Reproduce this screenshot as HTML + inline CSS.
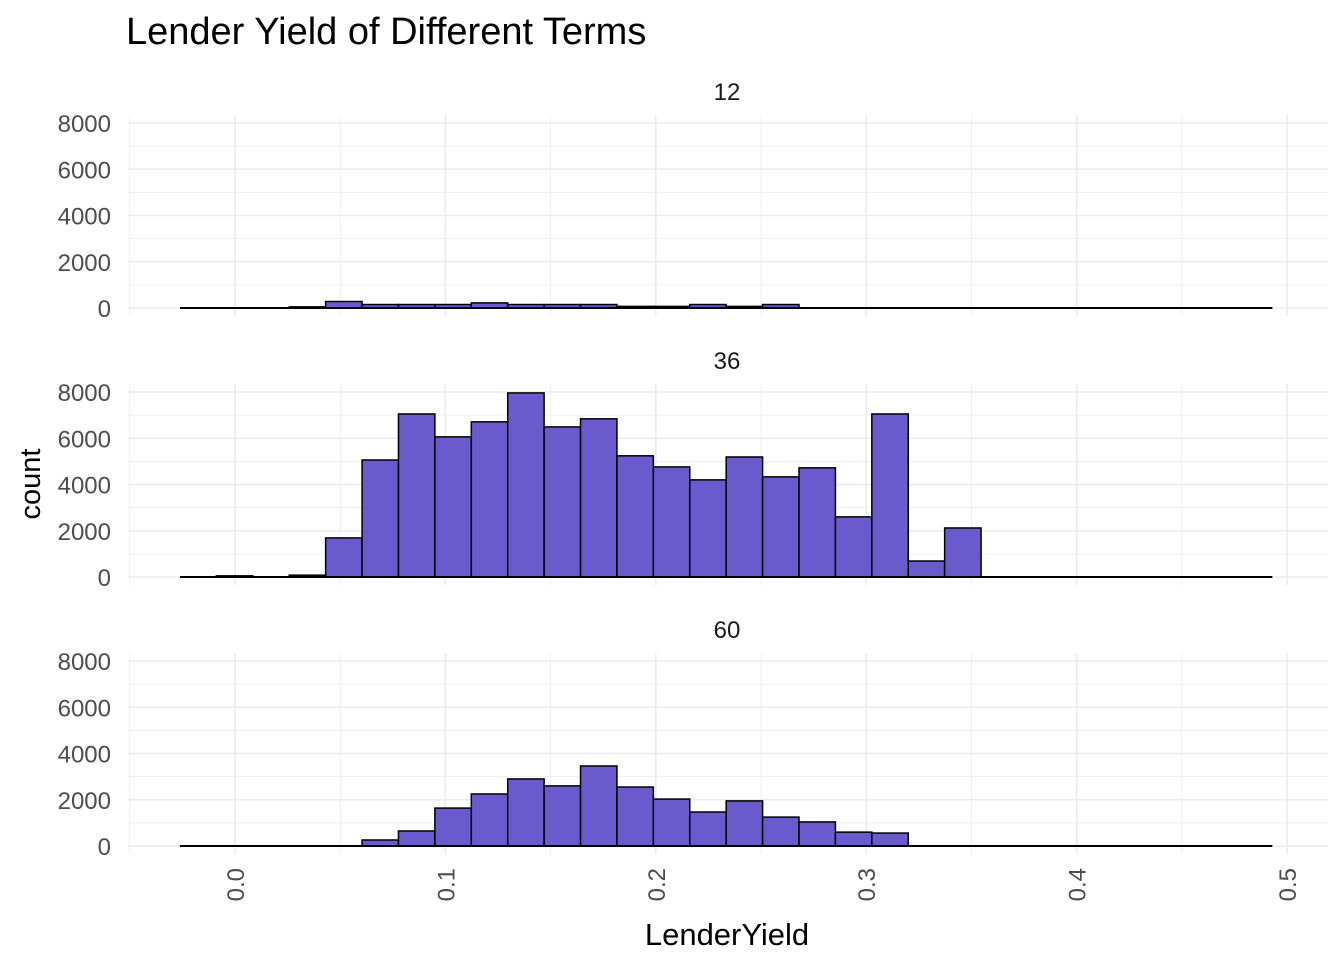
<!DOCTYPE html>
<html><head><meta charset="utf-8"><style>
body{margin:0;background:#fff;font-family:"Liberation Sans",Arial,sans-serif}
</style></head><body>
<svg id="chart" width="1344" height="960" xmlns="http://www.w3.org/2000/svg">
<text x="126" y="44" font-size="38" fill="#000">Lender Yield of Different Terms</text>
<text transform="translate(40,484) rotate(-90)" text-anchor="middle" font-size="29" fill="#000">count</text>
<text x="727" y="945" text-anchor="middle" font-size="31" fill="#000">LenderYield</text>
<g id="g"></g>
</svg>
<script>
const panels = ["12","36","60"];
const binStart = -0.02614, binWidth = 0.017306, nBins = 30;
const counts12 = [0,0,0,50,280,150,150,150,220,150,150,150,70,70,150,70,150,0,0,0,0,0,0,0,0,0,0,0,0,0];
const counts36 = [0,50,0,80,1690,5060,7050,6060,6710,7960,6490,6840,5240,4760,4200,5190,4330,4720,2600,7050,690,2120,0,0,0,0,0,0,0,0];
const counts60 = [0,0,0,0,0,260,650,1640,2250,2900,2600,3460,2550,2030,1470,1950,1250,1040,600,560,0,0,0,0,0,0,0,0,0,0];
const yTicks = [0,2000,4000,6000,8000];
const xTicks = [0,0.1,0.2,0.3,0.4,0.5];
const allCounts = [counts12,counts36,counts60];
const NS="http://www.w3.org/2000/svg", g=document.getElementById('g');
function mk(t,a,p){const e=document.createElementNS(NS,t);for(const k in a)e.setAttribute(k,a[k]);(p||g).appendChild(e);return e;}
const xs = v => 235 + v*2104;
const zeros=[308,577,846], tops=[115,384,653], bottoms=[316,585,854];
const ypx = (i,v) => zeros[i] - v*185/8000;
panels.forEach((p,i)=>{
  const pg=mk('g',{});
  
  
  for(let v=-0.05;v<=0.55;v+=0.05){const x=xs(v);if(x<128||x>1328)continue;
    const major=Math.abs(Math.round(v*10)-v*10)<1e-6;
    mk('line',{x1:x,x2:x,y1:tops[i],y2:bottoms[i],stroke:'#ebebeb','stroke-width':major?1.6:0.8},pg);}
  for(let v=-1000;v<=8500;v+=1000){const y=ypx(i,v);if(y<tops[i]||y>bottoms[i])continue;
    mk('line',{x1:128,x2:1328,y1:y,y2:y,stroke:'#ebebeb','stroke-width':v%2000===0?1.6:0.8},pg);}
  yTicks.forEach(t=>{const e=mk('text',{x:111,y:ypx(i,t)+9,'text-anchor':'end','font-size':24,fill:'#4d4d4d'},pg);e.textContent=t;
    
    });
  const s=mk('text',{x:727,y:tops[i]-15,'text-anchor':'middle','font-size':24,fill:'#1a1a1a'},pg);s.textContent=p;
  
  
  allCounts[i].forEach((c,b)=>{
    const x0=xs(binStart+b*binWidth), x1=xs(binStart+(b+1)*binWidth), y=ypx(i,c);
    const r=mk('rect',{x:x0,y:y,width:x1-x0,height:zeros[i]-y,fill:'#6a5acd',stroke:'#000','stroke-width':1.5},pg);
    
    
  });
  const bl=mk('line',{x1:xs(binStart),x2:xs(binStart+nBins*binWidth),y1:zeros[i],y2:zeros[i],stroke:'#000','stroke-width':2},pg);
  
  
});
xTicks.forEach(t=>{const x=xs(t);
  const e=mk('text',{transform:`translate(${x+9},${868}) rotate(-90)`,'text-anchor':'end','font-size':24,fill:'#4d4d4d'});
  e.textContent=t.toFixed(1);
  
  });
</script>
</body></html>
